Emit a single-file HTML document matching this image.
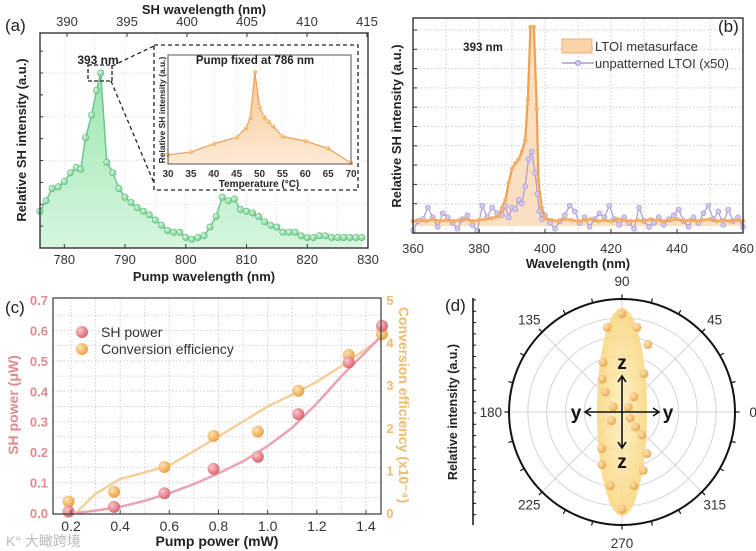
<!DOCTYPE html>
<html><head><meta charset="utf-8"><style>
html,body{margin:0;padding:0;background:#fff}
svg{display:block;font-family:"Liberation Sans","Noto Sans CJK SC",sans-serif}
.t{font-size:13px;fill:#333}
.b{font-weight:bold;fill:#222}
</style></head><body>
<svg id="fig" width="756" height="551" viewBox="0 0 756 551" xmlns="http://www.w3.org/2000/svg">
<defs>
<radialGradient id="gGreen" cx="35%" cy="35%" r="70%"><stop offset="0" stop-color="#d8f7df"/><stop offset="1" stop-color="#6fcf8c"/></radialGradient>
<radialGradient id="gPink" cx="35%" cy="35%" r="70%"><stop offset="0" stop-color="#f8c8cc"/><stop offset="1" stop-color="#d9606c"/></radialGradient>
<radialGradient id="gOr" cx="35%" cy="35%" r="70%"><stop offset="0" stop-color="#fde2b5"/><stop offset="1" stop-color="#e9a040"/></radialGradient>
<linearGradient id="greenFill" x1="0" y1="0" x2="0" y2="1"><stop offset="0" stop-color="#9de6b0"/><stop offset="1" stop-color="#d6f6de"/></linearGradient>
<linearGradient id="orFill" x1="0" y1="0" x2="0" y2="1"><stop offset="0" stop-color="#f7c58c"/><stop offset="1" stop-color="#fdebd6"/></linearGradient>
<radialGradient id="lobeFill" cx="50%" cy="50%" r="50%"><stop offset="0" stop-color="#fdeec0"/><stop offset="1" stop-color="#f8d57a"/></radialGradient>
</defs>
<g id="pa"></g>
<g id="pb"></g>
<g id="pc"></g>
<g id="pd"></g>
<text x="6" y="546" style="font-size:14px;fill:#bbb">K° 大瞰跨境</text>
</svg>
<script>
// ---------- Panel (a) data ----------
const aPumpX = [776,777,778,779,780,781,782,782.7,783.5,784.5,785.3,786,787,788,789,790,791,792,793,794,795,796,797,798,799,800,801,802,803,804,805,806,807,808,809,810,811,812,813,814,815,816,817,818,819,820,821,822,823,824,825,826,827,828,829];
const aSH = [0.21,0.27,0.34,0.35,0.38,0.43,0.46,0.45,0.63,0.76,0.90,1.00,0.49,0.43,0.34,0.29,0.26,0.23,0.21,0.19,0.16,0.13,0.10,0.09,0.09,0.06,0.05,0.06,0.07,0.12,0.18,0.29,0.27,0.28,0.22,0.21,0.20,0.18,0.15,0.13,0.12,0.09,0.09,0.09,0.07,0.06,0.06,0.07,0.07,0.06,0.06,0.06,0.06,0.06,0.06];
const aBottomTicks = [780,790,800,810,820,830];
const aTopTicks = [390,395,400,405,410,415];
const insetT = [30,35,40,45,47,48,49,50,51,52,53,55,60,65,70];
const insetV = [0.10,0.13,0.22,0.29,0.39,0.50,1.00,0.62,0.51,0.46,0.41,0.30,0.25,0.17,0.01];
const insetTicks = [30,35,40,45,50,55,60,65,70];
// ---------- Panel (b) data ----------
const bOrX = [360,362,364,366,368,370,372,374,376,378,380,382,384,386,387,388,389,390,391,392,393,394,394.8,395.6,396.6,397.5,398,399,400,402,404,406,408,410,412,414,416,418,420,422,424,426,428,430,432,434,436,438,440,442,444,446,448,450,452,454,456,458,460];
const bOrY = [0.1,0.15,0.1,0.2,0.1,0.15,0.1,0.15,0.2,0.1,0.15,0.2,0.25,0.35,0.8,1.2,2.1,2.8,3.1,3.3,3.7,4.3,6.4,10.15,10.15,5.9,2.2,0.8,0.25,0.15,0.1,0.2,0.15,0.1,0.15,0.2,0.1,0.15,0.1,0.2,0.15,0.1,0.15,0.1,0.2,0.15,0.1,0.15,0.2,0.1,0.15,0.1,0.15,0.2,0.1,0.15,0.1,0.15,0.1];
const bPuX = [360,361.5,363,364.5,366,367.5,369,370.5,372,373.5,375,376.5,378,379.5,381,382.5,384,385.5,387,388,389,390,391,392,393,394,395,396,397,397.7,398.3,399,400,401.5,403,404.5,406,407.5,409,410.5,412,413.5,415,416.5,418,419.5,421,422.5,424,425.5,427,428.5,430,431.5,433,434.5,436,437.5,439,440.5,442,443.5,445,446.5,448,449.5,451,452.5,454,455.5,457,458.5,460];
const bPuY = [-0.4,0.1,0.2,0.8,0.3,-0.2,0.5,0.3,0.0,-0.3,0.2,0.4,-0.1,-0.4,0.9,0.3,0.8,0.5,0.4,0.9,0.3,0.8,0.7,1.2,1.0,1.9,3.3,3.7,2.6,1.5,0.6,0.2,0.4,0.0,-0.3,0.1,0.4,0.9,0.6,0.0,0.3,-0.2,0.2,0.5,0.3,0.9,0.2,-0.1,0.3,0.0,-0.3,0.8,0.1,-0.2,0.0,0.3,-0.1,0.2,0.4,0.7,0.1,-0.2,0.3,0.0,0.5,0.9,0.2,0.6,-0.1,0.7,0.1,0.3,-0.2];
const bTicks = [360,380,400,420,440,460];
// ---------- Panel (c) data ----------
const cPump = [0.19,0.375,0.58,0.78,0.96,1.125,1.33,1.465];
const cSH = [0.005,0.02,0.065,0.145,0.185,0.325,0.495,0.615];
const cEff = [0.27,0.5,1.08,1.81,1.91,2.87,3.71,4.2];
const cFitX = [0.22,0.3,0.4,0.5,0.6,0.7,0.8,0.9,1.0,1.1,1.2,1.3,1.4,1.46];
const cSHFit = [0,0.008,0.02,0.04,0.065,0.095,0.13,0.17,0.22,0.28,0.36,0.45,0.53,0.58];
const cEffFit = [0,0.45,0.8,0.95,1.12,1.45,1.8,2.15,2.5,2.78,3.08,3.45,3.85,4.1];
const cXTicks = [0.2,0.4,0.6,0.8,1.0,1.2,1.4];
const cLTicks = [0.0,0.1,0.2,0.3,0.4,0.5,0.6,0.7];
const cRTicks = [0,1,2,3,4,5];
// ---------- Panel (d) data ----------
const dAng = [90,100,80,69,111,60,121,52,130,149,37,323,220,312,311,241,301,249,290,261,279,270];
const dR = [0.87,0.76,0.76,0.64,0.47,0.39,0.34,0.17,0.23,0.09,0.07,0.09,0.12,0.18,0.27,0.37,0.43,0.50,0.55,0.66,0.66,0.86];
const dLabels = [0,45,90,135,180,225,270,315];

const NS="http://www.w3.org/2000/svg";
function mk(parent,tag,attrs,text){const e=document.createElementNS(NS,tag);for(const k in attrs)e.setAttribute(k,attrs[k]);if(text!==undefined)e.textContent=text;parent.appendChild(e);return e;}
function pathFrom(xs,ys){return xs.map((x,i)=>(i?'L':'M')+x.toFixed(1)+' '+ys[i].toFixed(1)).join(' ');}

// ===== Panel A =====
(function(){
const g=document.getElementById('pa');
const L=40,R=368,T=33,B=248;
const xa=v=>L+(v-776)/(830-776)*(R-L);
const ya=v=>B-v*175;
const xt=s=>67+(s-390)*12;
for(let v=780;v<=830;v+=5){const l=mk(g,'line',{x1:xa(v),x2:xa(v),y1:T,y2:B,stroke:'#ddd','stroke-dasharray':'1 2'});}
for(let v=0.25;v<1.2;v+=0.25){const l=mk(g,'line',{x1:L,x2:R,y1:ya(v),y2:ya(v),stroke:'#ddd','stroke-dasharray':'1 2'});}
const px=aPumpX.map(xa), py=aSH.map(ya);
const area=mk(g,'path',{d:pathFrom(px,py)+` L${px[px.length-1]} ${B} L${px[0]} ${B} Z`,fill:'url(#greenFill)'});

const line=mk(g,'path',{d:pathFrom(px,py),fill:'none',stroke:'#6cc58a','stroke-width':1.5});

px.forEach((x,i)=>{const c=mk(g,'circle',{cx:x,cy:py[i],r:3.2,fill:'url(#gGreen)',stroke:'#5fb87a','stroke-width':0.6});});
const box=mk(g,'rect',{x:L,y:T,width:R-L,height:B-T,fill:'none',stroke:'#333','stroke-width':1.4});

aBottomTicks.forEach(v=>{mk(g,'line',{x1:xa(v),x2:xa(v),y1:B,y2:B-4,stroke:'#333'});const t=mk(g,'text',{x:xa(v),y:B+16,'text-anchor':'middle',class:'t'},v);});
aTopTicks.forEach(v=>{mk(g,'line',{x1:xt(v),x2:xt(v),y1:T,y2:T+4,stroke:'#333'});const t=mk(g,'text',{x:xt(v),y:T-7,'text-anchor':'middle',class:'t'},v);});
for(let v=0.125;v<1.2;v+=0.125)mk(g,'line',{x1:L,x2:L+3,y1:ya(v),y2:ya(v),stroke:'#333'});
let t=mk(g,'text',{x:204,y:14,'text-anchor':'middle',class:'t b'},'SH wavelength (nm)');
t=mk(g,'text',{x:204,y:281,'text-anchor':'middle',class:'t b'},'Pump wavelength (nm)');
t=mk(g,'text',{x:0,y:0,'text-anchor':'middle',class:'t b',transform:'translate(26,140) rotate(-90)'},'Relative SH intensity (a.u.)');
t=mk(g,'text',{x:5,y:31,style:'font-size:17px;fill:#222'},'(a)');
const zb=mk(g,'rect',{x:88,y:65,width:24,height:16,fill:'none',stroke:'#222','stroke-dasharray':'4 2','stroke-width':1.3});
mk(g,'line',{x1:112,y1:66,x2:154,y2:46,stroke:'#222','stroke-dasharray':'4 3','stroke-width':1.3});
mk(g,'line',{x1:111,y1:81,x2:154,y2:183,stroke:'#222','stroke-dasharray':'4 3','stroke-width':1.3});
t=mk(g,'text',{x:98,y:64,'text-anchor':'middle',style:'font-size:12px;font-weight:bold;fill:#222'},'393 nm');
const ib=mk(g,'rect',{x:154,y:45,width:204,height:145,fill:'#fff',stroke:'#222','stroke-dasharray':'4 3','stroke-width':1.3});
const iL=168,iR=351,iT=55,iB=164;
const xi=v=>iL+(v-30)*(iR-iL)/40, yi=v=>iB-v*92;
for(let v=35;v<70;v+=5)mk(g,'line',{x1:xi(v),x2:xi(v),y1:iT,y2:iB,stroke:'#e3e3e3','stroke-dasharray':'1 2'});
const ix=insetT.map(xi), iy=insetV.map(yi);
const ia=mk(g,'path',{d:pathFrom(ix,iy)+` L${ix[ix.length-1]} ${iB} L${ix[0]} ${iB} Z`,fill:'url(#orFill)'});
const il=mk(g,'path',{d:pathFrom(ix,iy),fill:'none',stroke:'#e8a25a','stroke-width':1.2});
ix.forEach((x,i)=>{const c=mk(g,'circle',{cx:x,cy:iy[i],r:2.2,fill:'url(#gOr)'});});
mk(g,'rect',{x:iL,y:iT,width:iR-iL,height:iB-iT,fill:'none',stroke:'#555','stroke-width':1});
insetTicks.forEach(v=>{const tt=mk(g,'text',{x:xi(v),y:177,'text-anchor':'middle',style:'font-size:10px;font-weight:bold;fill:#333'},v);});
t=mk(g,'text',{x:259,y:187,'text-anchor':'middle',style:'font-size:10px;font-weight:bold;fill:#222'},'Temperature (°C)');
t=mk(g,'text',{x:255,y:64,'text-anchor':'middle',style:'font-size:11.5px;font-weight:bold;fill:#222'},'Pump fixed at 786 nm');
t=mk(g,'text',{x:0,y:0,'text-anchor':'middle',style:'font-size:8.5px;font-weight:bold;fill:#222',transform:'translate(165,110) rotate(-90)'},'Relative SH intensity (a.u.)');
})();

// ===== Panel B =====
(function(){
const g=document.getElementById('pb');
const L=413,R=743,T=18,B=233;
const xb=v=>L+(v-360)*(R-L)/100, yb=v=>223-v*19.3;
for(let v=370;v<460;v+=10)mk(g,'line',{x1:xb(v),x2:xb(v),y1:T,y2:B,stroke:'#ccc','stroke-dasharray':'1.5 2'});
for(let v=1;v<=10;v++){mk(g,'line',{x1:L,x2:R,y1:yb(v),y2:yb(v),stroke:'#ccc','stroke-dasharray':'1.5 2'});mk(g,'line',{x1:L,x2:L+4,y1:yb(v),y2:yb(v),stroke:'#333'});}
const ox=bOrX.map(xb), oy=bOrY.map(yb);
const oa=mk(g,'path',{d:pathFrom(ox,oy)+` L${ox[ox.length-1]} 226 L${ox[0]} 226 Z`,fill:'#fbdcbc',opacity:0.9});
const ux=bPuX.map(xb), uy=bPuY.map(yb);
const pl=mk(g,'path',{d:pathFrom(ux,uy),fill:'none',stroke:'#a99ad6','stroke-width':1.2});
ux.forEach((x,i)=>{const c=mk(g,'circle',{cx:x,cy:uy[i],r:2.5,fill:'#d3c9ef',stroke:'#9f90d0','stroke-width':0.6});});
const ol=mk(g,'path',{d:pathFrom(ox,oy),fill:'none',stroke:'#efa04c','stroke-width':2.2});
ox.forEach((x,i)=>{const c=mk(g,'circle',{cx:x,cy:oy[i],r:2.2,fill:'#f3b06a'});});
mk(g,'rect',{x:L,y:T,width:R-L,height:B-T,fill:'none',stroke:'#333','stroke-width':1.4});
bTicks.forEach(v=>{mk(g,'line',{x1:xb(v),x2:xb(v),y1:B,y2:B-4,stroke:'#333'});const t=mk(g,'text',{x:xb(v),y:253,'text-anchor':'middle',class:'t'},v);});
let t=mk(g,'text',{x:578,y:268,'text-anchor':'middle',class:'t b'},'Wavelength (nm)');
t=mk(g,'text',{x:0,y:0,'text-anchor':'middle',class:'t b',transform:'translate(401,126) rotate(-90)'},'Relative SH intensity (a.u.)');
t=mk(g,'text',{x:483,y:51,'text-anchor':'middle',style:'font-size:11.5px;font-weight:bold;fill:#222'},'393 nm');
t=mk(g,'text',{x:718,y:32,style:'font-size:17px;fill:#222'},'(b)');
const le=mk(g,'g',{});
const r1=mk(le,'rect',{x:562,y:39,width:30,height:14,fill:'#fbd3a8',stroke:'#e9a05a','stroke-width':0.8});
t=mk(le,'text',{x:595,y:51,class:'t'},'LTOI metasurface');
mk(le,'line',{x1:562,x2:594,y1:63,y2:63,stroke:'#a99ad6','stroke-width':1.5});
const lc=mk(le,'circle',{cx:578,cy:63,r:2.5,fill:'#d3c9ef',stroke:'#9f90d0'});
t=mk(le,'text',{x:595,y:68,class:'t'},'unpatterned LTOI (x50)');
})();

// ===== Panel C =====
(function(){
const g=document.getElementById('pc');
const L=53,R=381,T=298,B=514;
const xc=v=>71+(v-0.2)*245.8, yl=v=>513-v*304.3, yr=v=>513-v*42.6;
for(let v=0.2;v<1.46;v+=0.1)mk(g,'line',{x1:xc(v),x2:xc(v),y1:T,y2:B,stroke:'#d0d0d0','stroke-dasharray':'1.5 2'});
for(let v=0.05;v<0.7;v+=0.05)mk(g,'line',{x1:L,x2:R,y1:yl(v),y2:yl(v),stroke:'#d0d0d0','stroke-dasharray':'1.5 2'});
const fe=mk(g,'path',{d:pathFrom(cFitX.map(xc),cEffFit.map(yr)),fill:'none',stroke:'#f3cf9a','stroke-width':2.5});
const fs=mk(g,'path',{d:pathFrom(cFitX.map(xc),cSHFit.map(yl)),fill:'none',stroke:'#eaa2b4','stroke-width':2.5});
cPump.forEach((p,i)=>{const c=mk(g,'circle',{cx:xc(p),cy:yr(cEff[i]),r:6,fill:'url(#gOr)'});});
cPump.forEach((p,i)=>{const c=mk(g,'circle',{cx:xc(p),cy:yl(cSH[i]),r:6,fill:'url(#gPink)'});});
mk(g,'rect',{x:L,y:T,width:R-L,height:B-T,fill:'none',stroke:'#444','stroke-width':1.3});
cXTicks.forEach(v=>{mk(g,'line',{x1:xc(v),x2:xc(v),y1:B,y2:B-4,stroke:'#444'});const t=mk(g,'text',{x:xc(v),y:531,'text-anchor':'middle',style:'font-size:14px;fill:#333'},v.toFixed(1));});
cLTicks.forEach(v=>{const t=mk(g,'text',{x:48,y:yl(v)+5,'text-anchor':'end',style:'font-size:13px;font-weight:bold;fill:#e08a8e'},v.toFixed(1));});
cRTicks.forEach(v=>{const t=mk(g,'text',{x:390,y:yr(v)+5,'text-anchor':'middle',style:'font-size:13px;font-weight:bold;fill:#f0bb70'},v);});
let t=mk(g,'text',{x:217,y:546,'text-anchor':'middle',style:'font-size:14px;font-weight:bold;fill:#222'},'Pump power (mW)');
t=mk(g,'text',{x:0,y:0,'text-anchor':'middle',style:'font-size:14px;font-weight:bold;fill:#e08a8e',transform:'translate(18,405) rotate(-90)'},'SH power (μW)');
t=mk(g,'text',{x:0,y:0,'text-anchor':'middle',style:'font-size:14px;font-weight:bold;fill:#f0bb70',transform:'translate(399,405) rotate(90)'},'Conversion efficiency (x10⁻⁴)');
t=mk(g,'text',{x:5,y:313,style:'font-size:17px;fill:#222'},'(c)');
const le=mk(g,'g',{});
mk(le,'circle',{cx:82,cy:332,r:6,fill:'url(#gPink)'});
t=mk(le,'text',{x:101,y:337,style:'font-size:14px;fill:#333'},'SH power');
mk(le,'circle',{cx:82,cy:349,r:6,fill:'url(#gOr)'});
t=mk(le,'text',{x:101,y:354,style:'font-size:14px;fill:#333'},'Conversion efficiency');
})();

// ===== Panel D =====
(function(){
const g=document.getElementById('pd');
const cx=622,cy=412,Rr=113;
const pxy=(a,r)=>[cx+r*Rr*Math.cos(a*Math.PI/180),cy-r*Rr*Math.sin(a*Math.PI/180)];
for(let k=1;k<=5;k++)mk(g,'circle',{cx,cy,r:Rr*k/6,fill:'none',stroke:'#d4d4d4','stroke-width':1});
for(let a=0;a<360;a+=45){const p=pxy(a,1);mk(g,'line',{x1:cx,y1:cy,x2:p[0],y2:p[1],stroke:'#d4d4d4','stroke-width':1});}
const lobe=mk(g,'ellipse',{cx,cy,rx:25,ry:104,fill:'url(#lobeFill)',opacity:0.85});
dAng.forEach((a,i)=>{const p=pxy(a,dR[i]);const c=mk(g,'circle',{cx:p[0],cy:p[1],r:4.5,fill:'url(#gOr)',opacity:0.9});});
const oc=mk(g,'circle',{cx,cy,r:Rr,fill:'none',stroke:'#111','stroke-width':2});
for(let a=0;a<360;a+=15){const p=pxy(a,1),q=pxy(a,1.04);mk(g,'line',{x1:p[0],y1:p[1],x2:q[0],y2:q[1],stroke:'#111','stroke-width':1.2});}
dLabels.forEach(a=>{const p=pxy(a,1.16);const t=mk(g,'text',{x:p[0],y:p[1]+5,'text-anchor':'middle',style:'font-size:13.5px;fill:#333'},a);});
const ar=mk(g,'g',{stroke:'#111','stroke-width':1.6,fill:'none'});
mk(ar,'line',{x1:586,y1:412,x2:658,y2:412});mk(ar,'line',{x1:622,y1:377,x2:622,y2:447});
mk(ar,'path',{d:'M591 408 L585 412 L591 416 M653 408 L659 412 L653 416 M618 382 L622 376 L626 382 M618 442 L622 448 L626 442'});
[['y',576,419],['y',668,419],['z',622,369],['z',622,468]].forEach(s=>{const t=mk(g,'text',{x:s[1],y:s[2],'text-anchor':'middle',style:'font-size:19px;font-weight:bold;fill:#111'},s[0]);});
mk(g,'line',{x1:473,y1:298,x2:473,y2:525,stroke:'#111','stroke-width':1.5});
for(let y=300;y<=524;y+=11.3)mk(g,'line',{x1:473,x2:476,y1:y,y2:y,stroke:'#111'});
let t=mk(g,'text',{x:0,y:0,'text-anchor':'middle',style:'font-size:12.5px;font-weight:bold;fill:#222',transform:'translate(457,412) rotate(-90)'},'Relative intensity (a.u.)');
t=mk(g,'text',{x:445,y:311,style:'font-size:17px;fill:#222'},'(d)');
})();
</script>
</body></html>
